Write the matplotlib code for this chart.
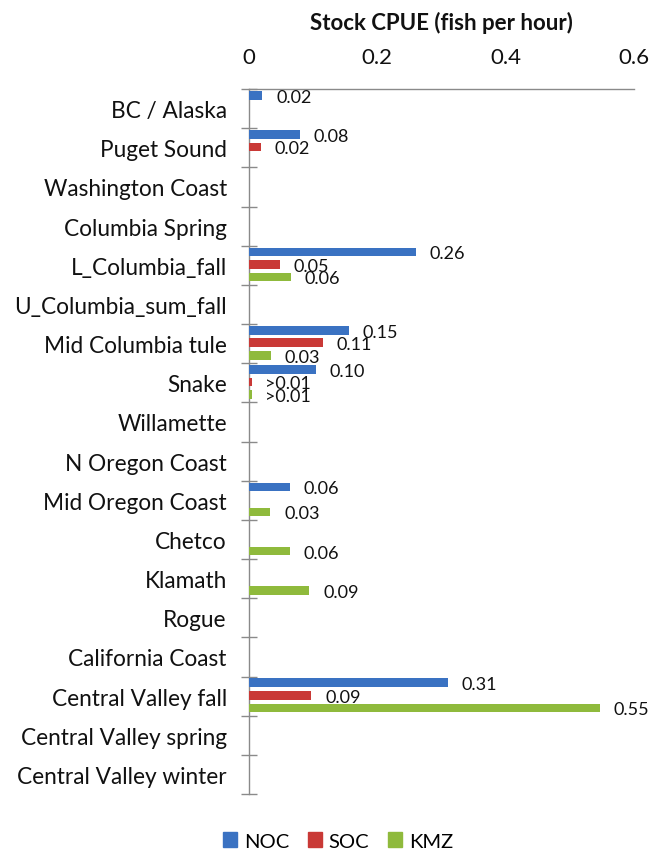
import numpy as np
import matplotlib
matplotlib.use("Agg")
import matplotlib.pyplot as plt
from matplotlib.patches import Patch

plt.rcParams['font.family'] = ['Lato', 'DejaVu Sans']

stocks = ["BC / Alaska", "Puget Sound", "Washington Coast", "Columbia Spring",
          "L_Columbia_fall", "U_Columbia_sum_fall", "Mid Columbia tule", "Snake",
          "Willamette", "N Oregon Coast", "Mid Oregon Coast", "Chetco", "Klamath",
          "Rogue", "California Coast", "Central Valley fall",
          "Central Valley spring", "Central Valley winter"]

# values (nan = no bar)
noc = [0.021, 0.079, np.nan, np.nan, 0.26, np.nan, 0.156, 0.104, np.nan, np.nan,
       0.064, np.nan, np.nan, np.nan, np.nan, 0.31, np.nan, np.nan]
soc = [np.nan, 0.018, np.nan, np.nan, 0.048, np.nan, 0.115, 0.004, np.nan, np.nan,
       np.nan, np.nan, np.nan, np.nan, np.nan, 0.097, np.nan, np.nan]
kmz = [np.nan, np.nan, np.nan, np.nan, 0.065, np.nan, 0.034, 0.004, np.nan, np.nan,
       0.033, 0.064, 0.094, np.nan, np.nan, 0.547, np.nan, np.nan]

noc_lab = ["0.02", "0.08", "", "", "0.26", "", "0.15", "0.10", "", "", "0.06",
           "", "", "", "", "0.31", "", ""]
soc_lab = ["", "0.02", "", "", "0.05", "", "0.11", ">0.01", "", "", "",
           "", "", "", "", "0.09", "", ""]
kmz_lab = ["", "", "", "", "0.06", "", "0.03", ">0.01", "", "", "0.03",
           "0.06", "0.09", "", "", "0.55", "", ""]

series = [("NOC", noc, noc_lab, "#3a72c2"),
          ("SOC", soc, soc_lab, "#c93936"),
          ("KMZ", kmz, kmz_lab, "#8fba3c")]

fig = plt.figure(figsize=(6.5, 8.54), dpi=100)
ax = fig.add_axes([249/650, 1-795/854, 385/650, 705/854])

y = np.arange(len(stocks))
offs = [-0.34, -0.02, 0.30]
for (name, vals, labs, col), off in zip(series, offs):
    v = np.array(vals, dtype=float)
    m = ~np.isnan(v)
    ax.barh(y[m] + off, v[m], height=0.22, color=col, zorder=3)
    for yy, vv, lab in zip(y[m], v[m], np.array(labs)[m]):
        ax.annotate(lab, (vv, yy + off), xytext=(10, -1), textcoords='offset points',
                    va='center', ha='left', fontsize=13, color='#111111')

ax.set_xlim(0, 0.6)
ax.set_ylim(len(stocks) - 0.5, -0.5)
ax.xaxis.tick_top()
ax.xaxis.set_label_position('top')
ax.set_xticks([0, 0.2, 0.4, 0.6])
ax.set_xticklabels(["0", "0.2", "0.4", "0.6"])
ax.tick_params(axis='x', length=0, pad=16, labelsize=16, colors='#111111')
ax.set_xlabel("Stock CPUE (fish per hour)", fontsize=16, fontweight='bold',
              labelpad=13, color='#111111')

ax.set_yticks(y)
ax.set_yticklabels(stocks)
ax.tick_params(axis='y', which='major', length=0, pad=16, labelsize=16.3,
               colors='#111111')
ax.set_yticks(np.arange(-0.5, len(stocks), 1), minor=True)
ax.tick_params(axis='y', which='minor', direction='inout', length=11,
               width=1, color='#8a8a8a')

for s in ['right', 'bottom']:
    ax.spines[s].set_visible(False)
for s in ['left', 'top']:
    ax.spines[s].set_color('#8a8a8a')
    ax.spines[s].set_linewidth(1)

handles = [Patch(color=c, label=n) for n, _, _, c in series]
fig.legend(handles=handles, loc='center', bbox_to_anchor=(338/650, 1-842/854),
           ncol=3, frameon=False, fontsize=14.5, handlelength=0.7,
           handleheight=0.7, handletextpad=0.35, columnspacing=0.9,
           borderpad=0.2)

fig.savefig("out.png", dpi=100)
